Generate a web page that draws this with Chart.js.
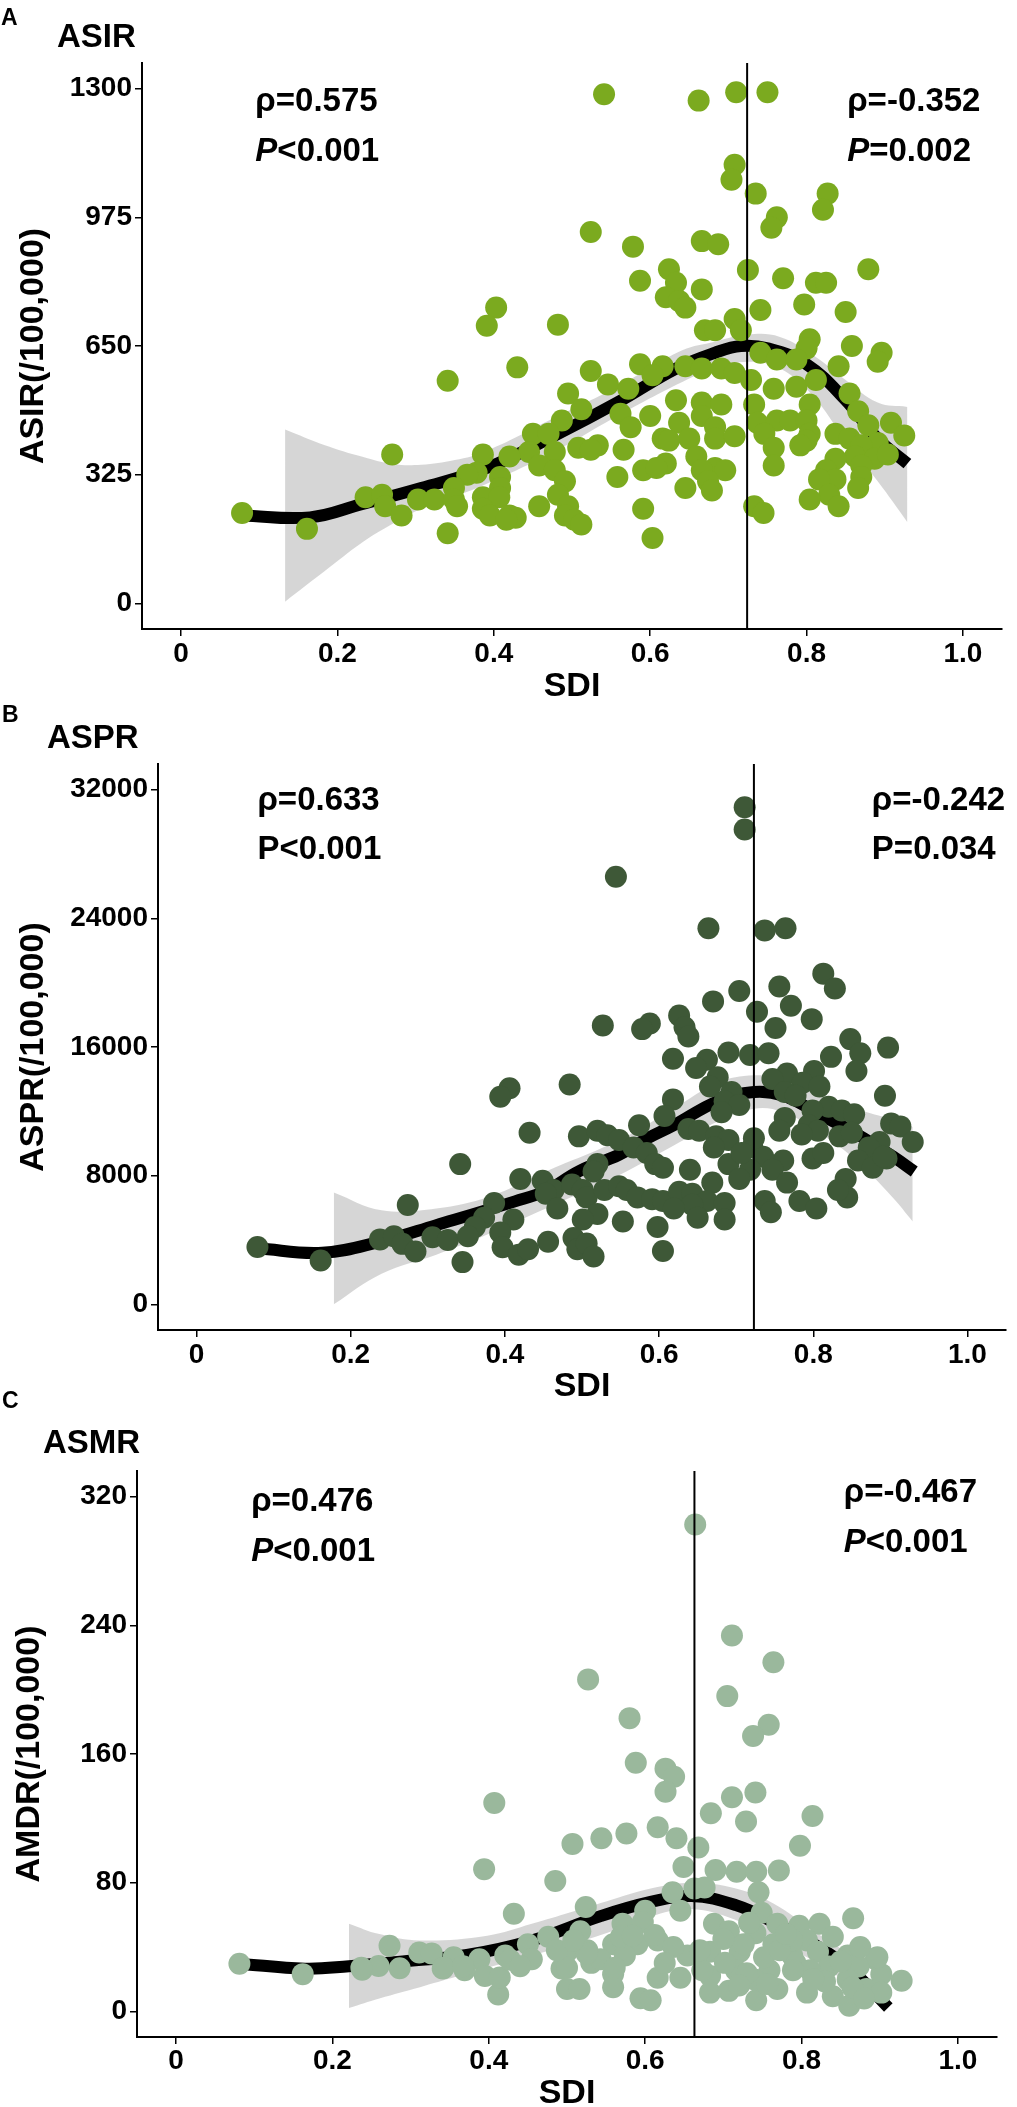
<!DOCTYPE html>
<html>
<head>
<meta charset="utf-8">
<script src="https://cdn.jsdelivr.net/npm/chart.js@4.4.1/dist/chart.umd.min.js"></script>
<style>
  body { margin: 0; background: #fff; }
  #wrap { position: relative; width: 1017px; height: 2107px; overflow: hidden; background: #fff; }
  canvas { position: absolute; left: 0; }
</style>
</head>
<body>
<div id="wrap">
  <canvas id="cA" width="1017" height="700" style="top:0px"></canvas>
  <canvas id="cB" width="1017" height="700" style="top:700px"></canvas>
  <canvas id="cC" width="1017" height="722" style="top:1385px"></canvas>
</div>
<script>
"use strict";

// shared axis
var sdiTicks = [0, 0.2, 0.4, 0.6, 0.8, 1.0];

// ASIR
var asirTicks = [0, 325, 650, 975, 1300];
var asirSdi = [0.541,0.662,0.710,0.750,0.708,0.704,0.735,0.827,0.821,0.762,0.755,0.524,0.578,0.666,0.687,0.725,0.879,0.624,0.770,0.587,
  0.633,0.812,0.825,0.666,0.620,0.637,0.645,0.403,0.391,0.482,0.797,0.741,0.850,0.708,0.670,0.683,0.716,0.804,0.800,0.858,
  0.896,0.891,0.741,0.762,0.787,0.841,0.587,0.616,0.524,0.430,0.341,0.645,0.666,0.691,0.708,0.729,0.546,0.572,0.495,0.603,
  0.758,0.787,0.812,0.855,0.633,0.666,0.691,0.733,0.804,0.512,0.562,0.600,0.666,0.866,0.487,0.575,0.637,0.683,0.737,0.762,
  0.779,0.800,0.908,0.879,0.450,0.470,0.616,0.650,0.683,0.708,0.746,0.804,0.837,0.855,0.925,0.891,0.870,0.508,0.533,0.524,
  0.478,0.445,0.566,0.624,0.800,0.792,0.758,0.862,0.887,0.904,0.870,0.837,0.386,0.270,0.420,0.659,0.758,0.620,0.683,0.696,
  0.666,0.591,0.608,0.458,0.478,0.378,0.366,0.408,0.558,0.825,0.837,0.816,0.870,0.674,0.491,0.349,0.408,0.645,0.679,0.866,
  0.236,0.257,0.303,0.324,0.349,0.386,0.407,0.482,0.829,0.804,0.261,0.353,0.386,0.458,0.495,0.591,0.733,0.841,0.282,0.395,
  0.420,0.428,0.491,0.745,0.078,0.416,0.503,0.512,0.161,0.341,0.603];
var asirVal = [1286,1270,1291,1291,1108,1070,1035,1035,994,975,949,938,901,915,907,842,844,844,821,815,
  810,810,810,793,773,764,747,747,701,704,755,741,736,718,690,690,690,667,644,650,
  633,610,633,616,616,599,604,599,587,596,562,599,593,593,582,564,553,542,530,576,
  542,547,564,530,513,507,502,502,502,490,479,473,473,485,462,445,456,445,456,462,
  462,462,456,450,428,428,416,416,416,422,428,428,428,416,424,405,399,393,399,388,
  382,382,388,411,411,399,393,371,365,376,348,365,376,376,371,371,348,353,342,336,
  336,336,342,348,336,330,325,319,319,336,313,313,319,308,308,291,291,291,285,291,
  268,274,262,262,262,268,268,274,274,262,245,245,239,245,245,239,245,245,222,222,
  222,216,222,228,228,211,211,199,188,177,165];
var asirFitSdi = [0.078,0.165,0.232,0.307,0.391,0.482,0.558,0.633,0.683,0.716,0.750,0.800,0.850,0.891,0.929];
var asirFitVal = [222,217,251,291,342,428,507,593,633,650,644,604,513,416,353];
var asirBandSdi = [0.133,0.183,0.232,0.270,0.307,0.350,0.391,0.482,0.558,0.641,0.683,0.725,0.766,0.808,0.850,0.891,0.929];
var asirBandLo = [4,80,154,200,239,270,302,388,473,559,593,610,593,524,410,308,205];
var asirBandHi = [439,400,370,352,350,362,385,473,547,639,661,679,673,627,564,507,496];

// ASPR
var asprTicks = [0, 8000, 16000, 24000, 32000];
var asprSdi = [0.079,0.161,0.238,0.256,0.274,0.267,0.284,0.306,0.326,0.711,0.711,0.544,0.664,0.737,0.764,0.813,0.828,0.756,0.704,0.670,
  0.771,0.727,0.626,0.798,0.527,0.588,0.578,0.633,0.751,0.638,0.848,0.861,0.897,0.690,0.718,0.742,0.823,0.618,0.662,0.648,
  0.856,0.801,0.766,0.676,0.747,0.786,0.808,0.406,0.394,0.484,0.666,0.694,0.893,0.763,0.777,0.618,0.685,0.704,0.820,0.837,
  0.853,0.799,0.607,0.681,0.763,0.901,0.913,0.794,0.574,0.756,0.806,0.834,0.850,0.432,0.496,0.520,0.533,0.548,0.567,0.638,
  0.652,0.674,0.690,0.929,0.886,0.872,0.895,0.799,0.813,0.858,0.877,0.891,0.761,0.721,0.735,0.671,0.584,0.595,0.605,0.718,
  0.690,0.342,0.520,0.515,0.747,0.766,0.842,0.844,0.832,0.704,0.669,0.640,0.420,0.449,0.463,0.487,0.501,0.453,0.506,0.529,
  0.548,0.558,0.572,0.591,0.605,0.626,0.643,0.662,0.643,0.619,0.685,0.737,0.782,0.804,0.745,0.685,0.650,0.598,0.553,0.520,
  0.501,0.468,0.386,0.411,0.373,0.361,0.394,0.352,0.397,0.418,0.430,0.456,0.489,0.494,0.506,0.515,0.605,0.345,0.785,0.723,
  0.707];
var asprVal = [3562,2727,4035,4230,6177,3757,3283,4174,4002,30912,29532,26588,23391,23253,23391,20562,19642,19757,19481,18837,
  18561,18193,17963,17733,17342,17457,17112,17227,17181,16652,16491,15617,15962,15663,15502,15617,15387,15272,15203,14697,
  14513,14513,14352,14122,14007,13777,13547,13432,12903,13662,13547,13202,12972,13202,12972,12742,12627,12397,12282,12052,
  11822,12052,11707,11937,11592,11247,11063,11132,11132,10787,10787,10442,10672,10672,10442,10787,10511,10212,9752,10902,
  10787,10442,10212,10097,10097,9752,9062,9062,9407,8947,8487,9177,8947,9752,9177,9752,9407,8717,8487,8372,
  8717,8717,8717,8257,8372,7567,7797,6647,7107,7797,7567,8372,7797,7682,7107,7452,7107,6877,6647,7107,
  7337,7107,6647,6532,6417,6992,6877,6417,6187,5957,6302,6417,6417,5957,5727,5267,5382,4807,5152,5612,
  5267,5957,6302,5267,5382,4807,4462,4232,3542,3082,3427,3887,4117,3427,3772,2967,3312,2622,10557,10327,
  9407];
var asprFitSdi = [0.079,0.163,0.238,0.311,0.413,0.453,0.497,0.548,0.580,0.619,0.676,0.723,0.761,0.808,0.856,0.903,0.931];
var asprFitVal = [3478,3200,3896,4922,6400,7050,8300,9300,10200,11132,12627,13202,12972,11822,10600,9200,8257];
var asprBandSdi = [0.178,0.240,0.311,0.380,0.453,0.548,0.619,0.676,0.723,0.761,0.808,0.856,0.903,0.929];
var asprBandLo = [0,1900,3082,4400,5957,8027,9867,11362,12167,11937,10672,8947,6647,5152];
var asprBandHi = [6957,5850,5957,6700,8257,10212,12167,13777,14237,14007,13087,12167,11477,11017];

// ASMR
var asmrTicks = [0, 80, 160, 240, 320];
var asmrSdi = [0.081,0.162,0.238,0.259,0.273,0.286,0.311,0.327,0.664,0.711,0.764,0.527,0.705,0.580,0.758,0.738,0.588,0.626,0.637,0.626,
  0.741,0.407,0.711,0.814,0.684,0.729,0.616,0.576,0.544,0.507,0.640,0.668,0.798,0.394,0.485,0.649,0.690,0.717,0.742,0.771,
  0.635,0.663,0.745,0.524,0.432,0.600,0.571,0.645,0.749,0.866,0.688,0.769,0.797,0.823,0.517,0.476,0.450,0.707,0.741,0.840,
  0.807,0.764,0.616,0.559,0.500,0.421,0.388,0.355,0.590,0.654,0.683,0.721,0.788,0.821,0.859,0.895,0.873,0.341,0.369,0.395,
  0.455,0.493,0.531,0.559,0.616,0.645,0.683,0.716,0.759,0.792,0.835,0.902,0.928,0.412,0.500,0.516,0.559,0.594,0.607,0.683,
  0.707,0.742,0.769,0.807,0.840,0.861,0.883,0.902,0.830,0.859,0.740,0.702,0.673,0.574,0.543,0.597,0.612,0.788,0.897,0.811,
  0.752,0.726,0.569,0.584,0.526,0.636,0.670,0.500,0.561,0.730,0.789,0.756,0.772,0.875,0.850,0.815,0.865,0.880,0.625,0.700,
  0.733,0.780,0.720,0.414,0.427,0.487,0.525,0.508,0.440,0.676,0.237,0.342,0.367];
var asmrVal = [29.6,23.1,25.9,28.1,40.8,26.7,36.6,36.0,302.7,233.7,217.1,206.4,196.0,182.3,178.2,171.2,154.6,150.9,145.8,136.5,
  136.1,129.6,133.1,121.5,123.1,118.0,114.5,110.6,107.6,104.1,107.6,101.8,103.0,88.4,81.0,89.8,87.9,86.8,86.8,87.5,
  74.0,76.4,74.0,64.8,60.6,62.5,54.4,62.5,61.3,57.9,54.4,54.4,53.2,54.4,49.8,46.3,41.7,49.8,48.6,46.3,
  44.0,41.7,44.0,41.7,37.0,34.7,32.4,33.6,41.7,34.7,37.0,37.0,34.7,37.0,34.7,32.4,27.8,26.6,25.5,22.0,
  32.4,26.6,30.1,23.1,20.8,20.8,22.0,25.5,25.5,30.1,27.8,23.1,19.0,10.4,13.9,13.9,15.0,8.1,6.9,11.6,
  12.7,6.9,13.9,11.6,9.3,3.5,13.9,11.6,18.5,19.7,19.7,30.1,25.5,34.7,32.4,55.5,47.4,44.0,33.6,25.5,
  33.6,41.7,46.3,47.0,38.0,40.0,38.0,27.0,27.0,23.6,25.5,17.0,38.0,40.0,31.0,20.0,15.0,8.0,30.0,45.0,
  55.0,48.0,16.0,21.0,32.0,38.0,36.0,44.0,28.0,77.0,27.0,27.0,28.0];
var asmrFitSdi = [0.081,0.165,0.221,0.290,0.372,0.455,0.542,0.607,0.659,0.716,0.764,0.816,0.864,0.911];
var asmrFitVal = [29.6,26.5,28,31,35,44,59,68,71.7,66,55.5,41.7,25.5,2.3];
var asmrBandSdi = [0.221,0.260,0.312,0.398,0.455,0.550,0.607,0.659,0.716,0.764,0.816,0.864];
var asmrBandLo = [2.0,8,15,27,34.7,48.6,59,63.6,56.7,44,31.2,16];
var asmrBandHi = [54.5,48,44,47,54.4,68.3,76.4,79.8,76.4,67.1,49.8,34.7];

var FONT = "'Liberation Sans', Arial, Helvetica, sans-serif";
Chart.defaults.font.family = FONT;
Chart.defaults.color = '#000';

function toPoints(xs, ys) {
	return xs.map(function (x, i) { return { x: x, y: ys[i] }; });
}

// panel letter, panel title and the rho / P notes
function overlayPlugin(p) {
	return {
		id: 'overlay',
		afterDatasetsDraw: function (chart) {
			var ctx = chart.ctx;
			var xs = chart.scales.x, ys = chart.scales.y;
			ctx.save();
			ctx.fillStyle = '#000';
			ctx.textAlign = 'left';
			ctx.textBaseline = 'alphabetic';
			ctx.font = 'bold 23px ' + FONT;
			ctx.fillText(p.tag, p.tagAt[0], p.tagAt[1]);
			ctx.font = 'bold 33px ' + FONT;
			ctx.fillText(p.title, p.titleAt[0], p.titleAt[1]);
			ctx.textBaseline = 'middle';
			p.notes.forEach(function (n) {
				var x = xs.getPixelForValue(n.x);
				var y = ys.getPixelForValue(n.y);
				n.parts.forEach(function (part) {
					ctx.font = (part[1] ? 'italic ' : '') + 'bold 33px ' + FONT;
					ctx.fillText(part[0], x, y);
					x += ctx.measureText(part[0]).width;
				});
			});
			ctx.restore();
		}
	};
}

function makePanel(canvasId, p) {
	var canvas = document.getElementById(canvasId);
	var H = canvas.height;
	return new Chart(canvas, {
		type: 'scatter',
		data: {
			datasets: [
				{ type: 'line', data: toPoints(p.bandX, p.bandLo), borderColor: 'rgba(0,0,0,0)', borderWidth: 1,
				  pointRadius: 0, fill: false, tension: 0.4, order: 5 },
				{ type: 'line', data: toPoints(p.bandX, p.bandHi), borderColor: 'rgba(0,0,0,0)', borderWidth: 1,
				  pointRadius: 0, fill: 0, backgroundColor: 'rgba(153,153,153,0.4)', tension: 0.4, order: 4 },
				{ type: 'line', data: toPoints(p.fitX, p.fitY), borderColor: '#000', borderWidth: 12,
				  borderCapStyle: 'butt', pointRadius: 0, fill: false, tension: 0.4, order: 3 },
				{ data: toPoints(p.x, p.y), backgroundColor: p.color, borderWidth: 0, pointRadius: 11, order: 2 },
				{ type: 'line', data: [{ x: p.cut, y: p.yMin }, { x: p.cut, y: p.yMax }], borderColor: '#000',
				  borderWidth: 2, pointRadius: 0, fill: false, order: 1 }
			]
		},
		options: {
			responsive: false,
			animation: false,
			devicePixelRatio: 1,
			events: [],
			layout: { padding: { top: p.top, right: p.right, left: 0, bottom: 0 } },
			plugins: { legend: { display: false }, tooltip: { enabled: false } },
			scales: {
				x: {
					type: 'linear', min: -0.05, max: 1.05,
					afterBuildTicks: function (s) { s.ticks = sdiTicks.map(function (v) { return { value: v }; }); },
					afterFit: function (s) { s.height = H - p.bottom; },
					grid: { display: true, drawOnChartArea: false, drawTicks: true, tickLength: 7, color: '#000', lineWidth: 1.5 },
					border: { display: true, color: '#000', width: 2 },
					ticks: {
						color: '#000', padding: p.xPad, maxRotation: 0,
						font: { size: 28, weight: 'bold' },
						callback: function (v) { return v === 0 ? '0' : v.toFixed(1); }
					},
					title: { display: true, text: 'SDI', color: '#000', padding: 0,
					         font: { size: 34, weight: 'bold', lineHeight: 0.8 } }
				},
				y: {
					type: 'linear', min: p.yMin, max: p.yMax,
					afterBuildTicks: function (s) { s.ticks = p.yTicks.map(function (v) { return { value: v }; }); },
					afterFit: function (s) { s.width = p.left; },
					grid: { display: true, drawOnChartArea: false, drawTicks: true, tickLength: 7, color: '#000', lineWidth: 1.5 },
					border: { display: true, color: '#000', width: 2 },
					ticks: {
						color: '#000', padding: 3,
						font: { size: 28, weight: 'bold' },
						callback: function (v) { return String(v); }
					},
					title: { display: true, text: p.yTitle, color: '#000', padding: { top: p.yTitlePad, bottom: 0 },
					         font: { size: 34, weight: 'bold' } }
				}
			}
		},
		plugins: [overlayPlugin(p)]
	});
}

makePanel('cA', {
	x: asirSdi, y: asirVal, fitX: asirFitSdi, fitY: asirFitVal,
	bandX: asirBandSdi, bandLo: asirBandLo, bandHi: asirBandHi,
	yTicks: asirTicks, yMin: -65, yMax: 1365, cut: 0.724,
	color: '#7BAA1F', yTitle: 'ASIR(/100,000)', yTitlePad: 13,
	left: 142, right: 15, top: 63, bottom: 629, xPad: 1,
	tag: 'A', tagAt: [1, 25], title: 'ASIR', titleAt: [57, 47],
	notes: [
		{ x: 0.095, y: 1267, parts: [['\u03C1=0.575', false]] },
		{ x: 0.095, y: 1141, parts: [['P', true], ['<0.001', false]] },
		{ x: 0.852, y: 1267, parts: [['\u03C1=-0.352', false]] },
		{ x: 0.852, y: 1141, parts: [['P', true], ['=0.002', false]] }
	]
});

makePanel('cB', {
	x: asprSdi, y: asprVal, fitX: asprFitSdi, fitY: asprFitVal,
	bandX: asprBandSdi, bandLo: asprBandLo, bandHi: asprBandHi,
	yTicks: asprTicks, yMin: -1600, yMax: 33600, cut: 0.723,
	color: '#3E5837', yTitle: 'ASPR(/100,000)', yTitlePad: 13,
	left: 158, right: 0, top: 64, bottom: 630, xPad: 1,
	tag: 'B', tagAt: [2, 22], title: 'ASPR', titleAt: [47, 48],
	notes: [
		{ x: 0.079, y: 31315, parts: [['\u03C1=0.633', false]] },
		{ x: 0.079, y: 28265, parts: [['P<0.001', false]] },
		{ x: 0.876, y: 31315, parts: [['\u03C1=-0.242', false]] },
		{ x: 0.876, y: 28265, parts: [['P=0.034', false]] }
	]
});

makePanel('cC', {
	x: asmrSdi, y: asmrVal, fitX: asmrFitSdi, fitY: asmrFitVal,
	bandX: asmrBandSdi, bandLo: asmrBandLo, bandHi: asmrBandHi,
	yTicks: asmrTicks, yMin: -16, yMax: 336, cut: 0.663,
	color: '#9AB89C', yTitle: 'AMDR(/100,000)', yTitlePad: 9,
	left: 137, right: 20, top: 86, bottom: 652, xPad: 0,
	tag: 'C', tagAt: [2, 23], title: 'ASMR', titleAt: [43, 68],
	notes: [
		{ x: 0.096, y: 316.9, parts: [['\u03C1=0.476', false]] },
		{ x: 0.096, y: 285.8, parts: [['P', true], ['<0.001', false]] },
		{ x: 0.854, y: 322.5, parts: [['\u03C1=-0.467', false]] },
		{ x: 0.854, y: 291.4, parts: [['P', true], ['<0.001', false]] }
	]
});
</script>
</body>
</html>
